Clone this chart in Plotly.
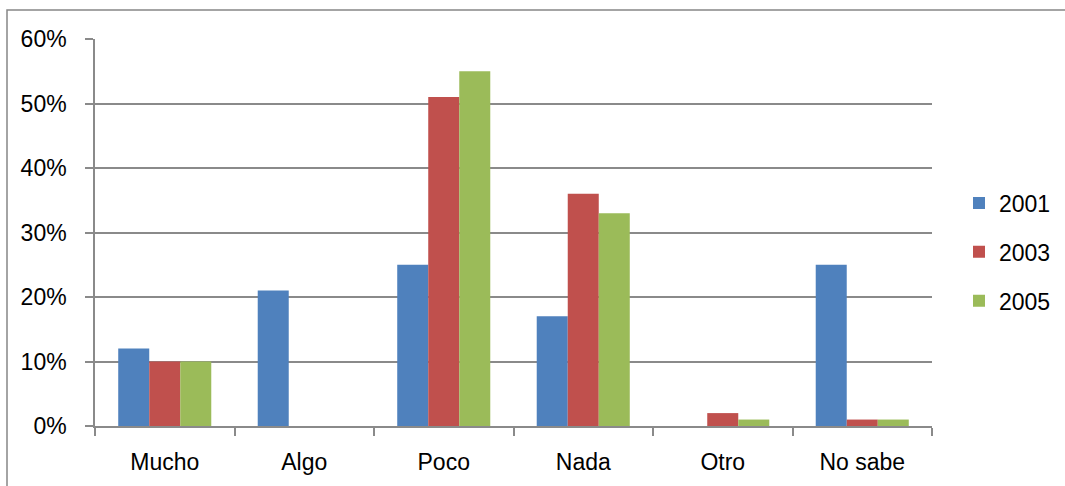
import plotly.graph_objects as go

categories = ["Mucho", "Algo", "Poco", "Nada", "Otro", "No sabe"]
s2001 = [12, 21, 25, 17, 0, 25]
s2003 = [10, 0, 51, 36, 2, 1]
s2005 = [10, 0, 55, 33, 1, 1]
series_names = ["2001", "2003", "2005"]
colors = ["#4F81BD", "#C0504D", "#9BBB59"]
y_ticks = [0, 10, 20, 30, 40, 50, 60]
y_labels = [f"{v}%" for v in y_ticks]

W, H = 1065, 486
L, R, T, B = 95, 932, 39, 426
pw, ph = R - L, B - T

fig = go.Figure()
for name, vals, col in zip(series_names, [s2001, s2003, s2005], colors):
    fig.add_trace(go.Bar(
        x=categories, y=vals, name=name, legendgroup=name,
        marker=dict(color=col, line=dict(width=0)),
    ))

grid = "#8A8A8A"
fig.update_layout(
    width=W, height=H,
    margin=dict(l=L, r=W - R, t=T, b=H - B, pad=0, autoexpand=False),
    paper_bgcolor="white", plot_bgcolor="white",
    barmode="group", bargap=0.333, bargroupgap=0,
    font=dict(family="Liberation Sans, Arial, sans-serif", size=23, color="black"),
    showlegend=True,
    legend=dict(xref="container", yref="container",
                x=959 / W, y=1 - 252 / H, xanchor="left", yanchor="middle",
                traceorder="grouped", tracegroupgap=16,
                font=dict(size=23), itemwidth=30, bgcolor="rgba(0,0,0,0)"),
    xaxis=dict(type="category", showline=True, linecolor=grid, linewidth=1.5,
               ticks="outside", tickson="boundaries", ticklen=8, tickcolor=grid,
               tickwidth=1.5, ticklabelstandoff=15, automargin=False,
               showgrid=False, zeroline=False),
    yaxis=dict(range=[0, 60], tickvals=y_ticks, ticktext=y_labels,
               showline=True, linecolor=grid, linewidth=1.5,
               ticks="outside", ticklen=8, tickcolor=grid, tickwidth=1.5,
               ticklabelstandoff=14, automargin=False,
               showgrid=True, gridcolor=grid, gridwidth=1.5, zeroline=False),
)

# outer chart border
fig.add_shape(type="rect", xref="paper", yref="paper",
              x0=(7 - L) / pw, x1=(1075 - L) / pw,
              y0=(B - 495) / ph, y1=(B - 10) / ph,
              line=dict(color="#878787", width=1.5), fillcolor="rgba(0,0,0,0)", layer="below")

fig.write_html("out.html", config={"displayModeBar": False},
               post_script="document.body.style.margin='0';")
